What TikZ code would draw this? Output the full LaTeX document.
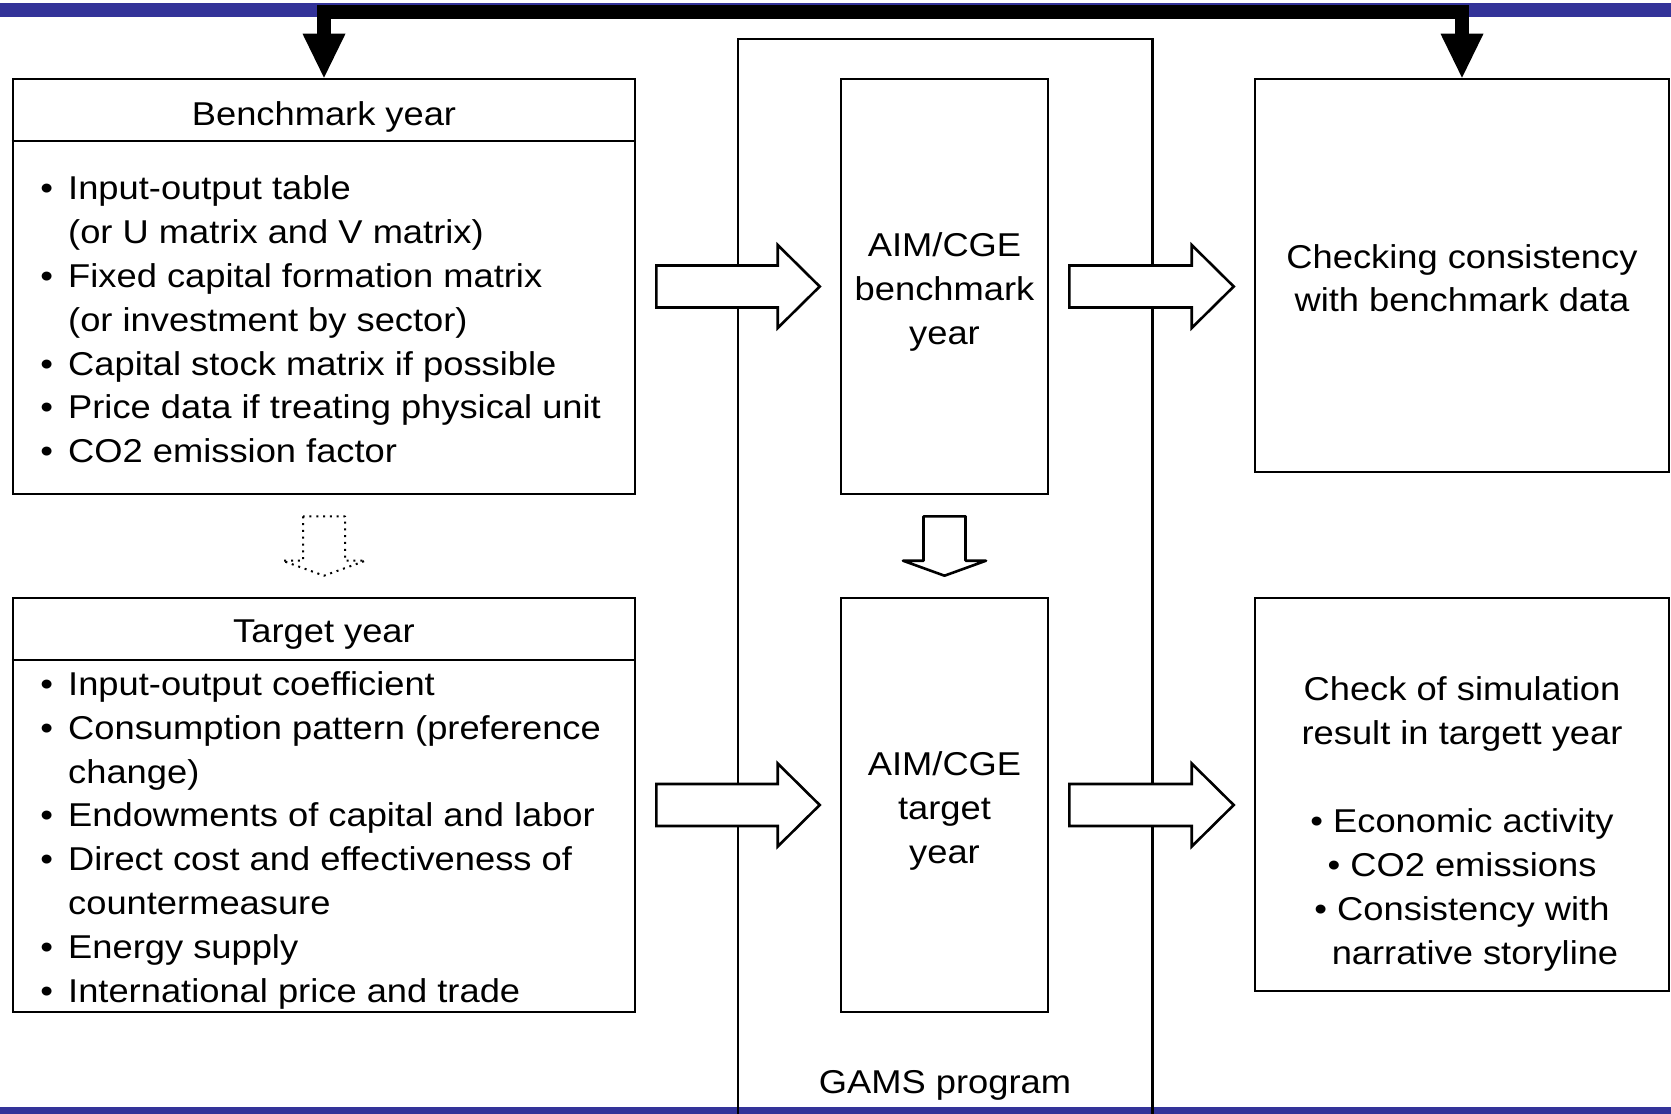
\documentclass[tikz,border=0pt]{standalone}
\usepackage{fontspec}
\setmainfont{Liberation Sans}[FakeStretch=1.1]
\usetikzlibrary{calc}
\definecolor{barblue}{HTML}{333399}
\tikzset{
  box/.style={draw, line width=2.6pt, inner sep=0pt, anchor=center},
  hol/.style={draw, fill=white, line width=2.6pt, line join=miter},
  vhol/.style={draw, fill=white, line width=2.6pt, line join=round},
  dotarrow/.style={draw, line width=2pt, line join=round, dash pattern=on 2pt off 4.8pt},
  txt/.style={inner sep=0pt, anchor=base west},
  ctxt/.style={inner sep=0pt, anchor=base},
}
\newcommand\bul{\llap{\textbullet\hspace{15pt}}}
\newcommand\harr[2]{\draw[hol] let \p1=($(#1)+(20,0)$), \p2=($(#2)+(-20,0)$) in
  (\x1,\y1+21pt) -- (\x2-42pt,\y1+21pt) -- (\x2-42pt,\y1+41.5pt) -- (\x2,\y1) --
  (\x2-42pt,\y1-41.5pt) -- (\x2-42pt,\y1-21pt) -- (\x1,\y1-21pt) -- cycle;}
\newcommand\varr[3]{\draw[#3] let \p1=($(#1)+(0,21)$), \p2=($(#2)+(0,-21)$) in
  (\x1-21pt,\y1) -- (\x1-21pt,\y2+15pt) -- (\x1-41.5pt,\y2+15pt) -- (\x1,\y2) --
  (\x1+41.5pt,\y2+15pt) -- (\x1+21pt,\y2+15pt) -- (\x1+21pt,\y1) -- cycle;}
\begin{document}
\begin{tikzpicture}[x=1pt, y=-1pt, font=\fontsize{33}{44}\selectfont]
\useasboundingbox (0,0) rectangle (1671,1114);
% frame bars
\fill[barblue] (0,3) rectangle (1671,17);
\fill[barblue] (0,1107) rectangle (1671,1114);
% GAMS outer frame
\node[inner sep=0pt, minimum width=414pt, minimum height=1075pt] (gams) at (945,576.5) {};
\draw[line width=2.6pt] (gams.south west) -- (gams.north west) -- (gams.north east) -- (gams.south east);
\node[ctxt] (gamslbl) at (945,1093) {GAMS program};
% boxes
\node[box, minimum width=622pt, minimum height=415pt] (bench) at (324,286.5) {};
\node[box, minimum width=622pt, minimum height=414pt] (target) at (324,805) {};
\node[box, minimum width=207pt, minimum height=415pt] (aim1) at (944.5,286.5) {};
\node[box, minimum width=207pt, minimum height=414pt] (aim2) at (944.5,805) {};
\node[box, minimum width=414pt, minimum height=393pt] (chk1) at (1462,275.5) {};
\node[box, minimum width=414pt, minimum height=393pt] (chk2) at (1462,794.5) {};
\coordinate (bh) at (0,141);
\coordinate (th) at (0,660);
\draw[line width=2.6pt] (bench.west |- bh) -- (bench.east |- bh);
\draw[line width=2.6pt] (target.west |- th) -- (target.east |- th);
% benchmark texts
\node[ctxt] (bhead) at (324,125) {Benchmark year};
\node[txt] (b1) at (68,199) {\bul Input-output table};
\node[txt] (b2) at (68,243) {(or U matrix and V matrix)};
\node[txt] (b3) at (68,287) {\bul Fixed capital formation matrix};
\node[txt] (b4) at (68,331) {(or investment by sector)};
\node[txt] (b5) at (68,375) {\bul Capital stock matrix if possible};
\node[txt] (b6) at (68,418) {\bul Price data if treating physical unit};
\node[txt] (b7) at (68,462) {\bul CO2 emission factor};
% target texts
\node[ctxt] (thead) at (324,642) {Target year};
\node[txt] (t1) at (68,695) {\bul Input-output coefficient};
\node[txt] (t2) at (68,739) {\bul Consumption pattern (preference};
\node[txt] (t3) at (68,783) {change)};
\node[txt] (t4) at (68,826) {\bul Endowments of capital and labor};
\node[txt] (t5) at (68,870) {\bul Direct cost and effectiveness of};
\node[txt] (t6) at (68,914) {countermeasure};
\node[txt] (t7) at (68,958) {\bul Energy supply};
\node[txt] (t8) at (68,1002) {\bul International price and trade};
% AIM/CGE texts
\node[ctxt] (a1) at (944.5,256) {AIM/CGE};
\node[ctxt] (a2) at (944.5,300) {benchmark};
\node[ctxt] (a3) at (944.5,344) {year};
\node[ctxt] (a4) at (944.5,775) {AIM/CGE};
\node[ctxt] (a5) at (944.5,819) {target};
\node[ctxt] (a6) at (944.5,863) {year};
% check texts
\node[ctxt] (c1) at (1462,268) {Checking consistency};
\node[ctxt] (c2) at (1462,311.5) {with benchmark data};
\node[ctxt] (s1) at (1462,700) {Check of simulation};
\node[ctxt] (s2) at (1462,744) {result in targett year};
\node[ctxt] (s3) at (1462,832) {\textbullet\ Economic activity};
\node[ctxt] (s4) at (1462,876) {\textbullet\ CO2 emissions};
\node[ctxt] (s5) at (1462,920) {\textbullet\ Consistency with};
\node[ctxt] (s6) at (1475,964) {narrative storyline};
% hollow arrows
\harr{bench.east}{aim1.west}
\harr{aim1.east}{chk1.west}
\harr{target.east}{aim2.west}
\harr{aim2.east}{chk2.west}
\varr{aim1.south}{aim2.north}{vhol}
\varr{bench.south}{target.north}{dotarrow}
% thick black arrow on top
\draw[line width=14pt, line join=miter] ($(bench.north)+(0,-43)$) -- ($(bench.north)+(0,-66)$)
  -- ($(chk1.north)+(0,-66)$) -- ($(chk1.north)+(0,-43)$);
\fill (bench.north) -- ++(-21.5,-44) -- ++(43,0) -- cycle;
\fill (chk1.north) -- ++(-21.5,-44) -- ++(43,0) -- cycle;
\end{tikzpicture}
\end{document}
